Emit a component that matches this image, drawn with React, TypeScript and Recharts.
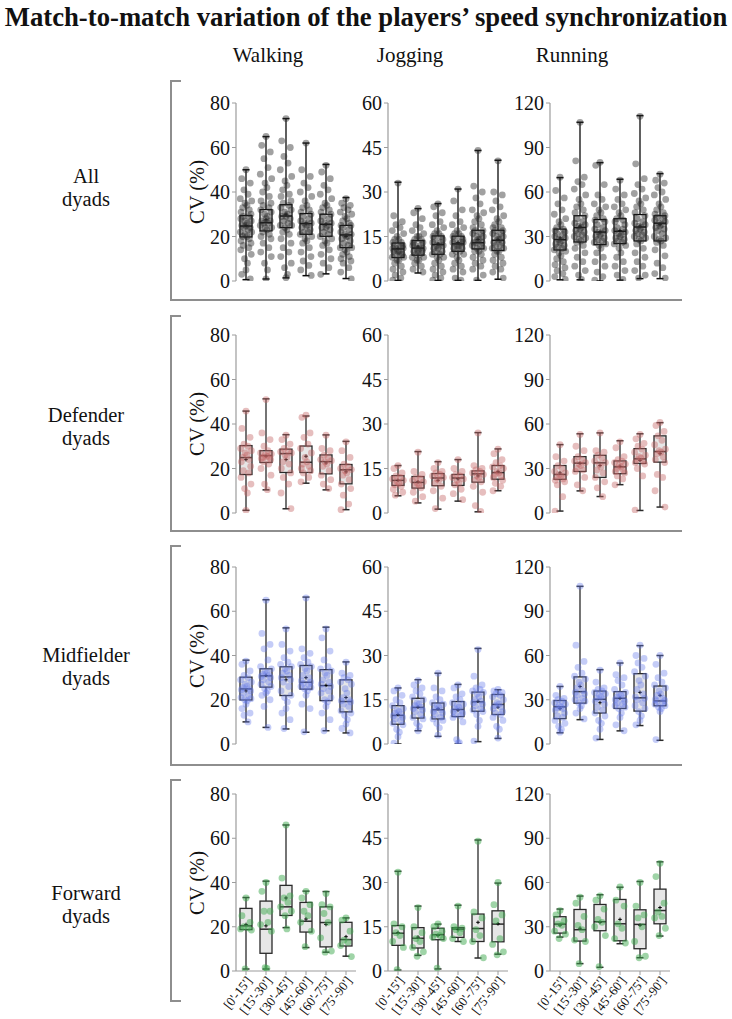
import React from 'react'
import { ComposedChart, Bar, Scatter, XAxis, YAxis } from 'recharts'

const periods = ["[0'-15']", "[15'-30']", "[30'-45']", "[45'-60']", "[60'-75']", "[75'-90']"]
const speedNames = ['Walking', 'Jogging', 'Running']
const groupNames = [['All', 'dyads'], ['Defender', 'dyads'], ['Midfielder', 'dyads'], ['Forward', 'dyads']]
const walkTicks = [0, 20, 40, 60, 80]
const jogTicks = [0, 15, 30, 45, 60]
const runTicks = [0, 30, 60, 90, 120]

// [min, q1, median, q3, max, mean] for each period
const allWalk = [[0.6, 19.8, 24.7, 29.4, 50, 25], [0.9, 22.5, 26.2, 32.1, 64.9, 27.5], [1.4, 24, 29.2, 34.3, 73, 30], [2.4, 21, 25.8, 30.3, 62, 26], [3.2, 20.1, 25.5, 30, 52.4, 25.5], [1.1, 15, 20.7, 25, 37.5, 20]]
const allJog = [[0.2, 7.9, 10.8, 12.8, 33.3, 11], [2.7, 8.7, 11.1, 13.6, 24.4, 11.5], [0.2, 9, 12.3, 15.2, 26.1, 12.5], [0.2, 10, 12.5, 15.1, 31, 13], [0.2, 10.8, 12.9, 17.1, 44, 14], [0.6, 10.3, 13.7, 17.1, 40.7, 14]]
const allRun = [[0.8, 20.9, 27.9, 35, 69.7, 29], [0.8, 26.3, 36, 44, 107, 37], [0, 24.5, 33, 41.4, 79.8, 33], [0.6, 25.2, 33.5, 42, 68.6, 34], [1.6, 27, 36.4, 44.8, 111.5, 37], [1.6, 27, 39, 44, 72.4, 38]]
const defWalk = [[1.2, 17.3, 24.9, 30.3, 45.8, 24], [10.4, 22.7, 25.8, 28, 51.3, 25.5], [1.9, 18.2, 26.7, 28.7, 35.2, 24], [13.4, 18.2, 22.8, 30.1, 43.6, 25.5], [10.4, 17.6, 23.1, 26.1, 35.1, 22.5], [1.5, 13.1, 19.4, 21.8, 32.2, 18.5]]
const defJog = [[5.8, 9.3, 11, 12.6, 16, 11], [3.4, 8.4, 10.3, 12.3, 20.7, 10.5], [1.3, 9.2, 11.8, 13.3, 17.3, 11], [4, 9.3, 11.8, 13, 18, 11.5], [0.4, 10.4, 13.2, 14.2, 27.1, 12.5], [7.5, 11.4, 13.6, 16, 21.6, 14]]
const defRun = [[1.3, 22.7, 26, 32, 46.1, 27], [14.9, 28, 33.6, 38, 53.4, 33.5], [11.1, 24, 33.8, 38.9, 54, 32], [19.1, 26.5, 31.1, 35.1, 48.7, 31.5], [1.7, 33.4, 36.5, 43.4, 53.4, 35.5], [4, 34.3, 41.4, 52, 60.9, 40]]
const midWalk = [[10, 19.9, 24.9, 30.2, 37.9, 24], [7.5, 25.7, 30.8, 34, 65.2, 31], [6.8, 21.9, 30.3, 34.9, 52.5, 29], [5.3, 24.8, 27.9, 35.5, 66.4, 30], [6, 19.6, 26.4, 33.6, 52.8, 26.5], [5, 14.5, 19.2, 29, 37.1, 21]]
const midJog = [[0, 6.7, 9.7, 13, 19, 10], [4.5, 8.8, 12.4, 15.5, 21.8, 12.5], [2.6, 8.5, 11.6, 13.9, 24, 12], [0, 9.3, 11.7, 14.4, 20.2, 11.5], [0.8, 11.1, 14.3, 17.6, 32.4, 14.5], [1.9, 10, 13.4, 16.8, 18.4, 12.5]]
const midRun = [[7.6, 17.2, 25.2, 29.5, 39, 24], [16.5, 27.7, 35.5, 45.5, 106.9, 39], [3.1, 21, 30.3, 35.9, 50.4, 28], [8.9, 24.1, 31, 35.5, 54.9, 31], [12.5, 22.3, 31.3, 47.7, 66.7, 35], [2.5, 25.9, 29.2, 39.3, 60, 33]]
const fwdWalk = [[0.9, 18.7, 20.4, 28.3, 33.2, 21], [0.9, 8, 18.9, 31.6, 40.6, 20.4], [19.6, 25.1, 29, 38.7, 66, 33], [10.6, 17.6, 22.5, 31, 36.1, 23.5], [8.5, 10.9, 21.9, 29, 35.9, 21], [6.7, 11.3, 14.2, 22, 24, 15.5]]
const fwdJog = [[0.3, 8.7, 12.8, 15.4, 33.8, 13], [5.3, 7.8, 11.1, 14.7, 22, 11.5], [0.7, 10.6, 12.3, 14.5, 15.9, 12], [10, 11.4, 14.2, 14.7, 22.3, 14], [4.4, 10, 14.4, 19.3, 44.4, 16.5], [5.7, 9.9, 15.9, 20.4, 29.8, 16]]
const fwdRun = [[23, 25.7, 31.8, 36.8, 42, 31], [5, 20.3, 28, 41.7, 50.8, 29], [2.5, 27.3, 33.4, 45.1, 51.7, 33], [18.5, 20.5, 32, 48.5, 56.8, 35], [9, 15.1, 31.6, 41.5, 60.7, 31], [23.7, 32, 41, 55.5, 74, 43]]

// individual dyad values per period
const allWalkPts = [
  [50, 46, 44, 41, 39, 37, 36, 35, 34, 33, 32, 31, 30, 29, 29, 28, 27, 27, 26, 25, 25, 24, 24, 23, 22, 22, 21, 20, 20, 19, 18, 17, 16, 15, 14, 12, 10, 8, 5, 3, 1],
  [65, 61, 58, 55, 51, 48, 46, 44, 42, 40, 38, 36, 35, 34, 33, 32, 31, 30, 29, 28, 27, 27, 26, 26, 25, 24, 24, 23, 22, 21, 20, 19, 17, 15, 13, 11, 8, 5, 1],
  [73, 63, 60, 56, 53, 50, 47, 45, 43, 41, 39, 38, 36, 35, 34, 33, 32, 31, 30, 29, 29, 28, 27, 26, 25, 25, 24, 23, 22, 21, 19, 17, 15, 13, 11, 8, 6, 3, 1.5],
  [62, 50, 47, 44, 42, 40, 38, 36, 34, 33, 32, 31, 30, 29, 28, 27, 26, 26, 25, 25, 24, 23, 22, 22, 21, 20, 19, 18, 17, 15, 13, 11, 9, 7, 5, 2.5],
  [52, 49, 46, 43, 41, 39, 37, 35, 34, 33, 32, 31, 30, 29, 28, 27, 26, 26, 25, 24, 24, 23, 22, 21, 20, 19, 18, 17, 16, 14, 12, 10, 8, 6, 3],
  [37, 35, 34, 33, 32, 31, 30, 29, 28, 27, 26, 25, 25, 24, 23, 22, 21, 21, 20, 20, 19, 18, 17, 16, 15, 15, 14, 13, 12, 11, 10, 9, 8, 6, 4, 1],
]
const allJogPts = [
  [33, 22, 20, 19, 18, 17, 16, 15, 14, 14, 13, 13, 12, 12, 12, 11, 11, 11, 10, 10, 10, 9, 9, 9, 8, 8, 7, 7, 6, 5, 4, 3, 2, 1, 0.3],
  [24.5, 23, 21, 19, 18, 17, 16, 15, 15, 14, 14, 13, 13, 12, 12, 12, 11, 11, 11, 10, 10, 10, 9, 9, 8, 8, 7, 7, 6, 5, 4, 3],
  [26, 25, 23, 22, 20, 19, 18, 17, 16, 16, 15, 15, 14, 14, 13, 13, 12, 12, 12, 11, 11, 10, 10, 9, 9, 8, 8, 7, 6, 5, 4, 3, 2, 1, 0.3],
  [31, 27, 24, 22, 20, 19, 18, 17, 16, 16, 15, 15, 14, 14, 13, 13, 13, 12, 12, 12, 11, 11, 10, 10, 9, 9, 8, 7, 6, 5, 4, 3, 1, 0.3],
  [44, 32, 30, 28, 26, 24, 23, 22, 21, 20, 19, 18, 17, 17, 16, 16, 15, 15, 14, 14, 13, 13, 13, 12, 12, 11, 11, 10, 10, 9, 8, 7, 6, 5, 4, 2, 0.3],
  [40.5, 30, 29, 27, 25, 24, 22, 21, 20, 19, 18, 18, 17, 17, 16, 16, 15, 15, 14, 14, 13, 13, 12, 12, 11, 11, 10, 10, 9, 8, 7, 6, 5, 4, 3, 1],
]
const allRunPts = [
  [70, 61, 56, 52, 48, 45, 42, 40, 38, 36, 35, 34, 33, 32, 31, 30, 29, 28, 27, 26, 25, 24, 23, 22, 21, 20, 19, 17, 15, 13, 11, 9, 7, 5, 3, 1],
  [107, 81, 70, 67, 65, 62, 58, 55, 52, 50, 48, 46, 44, 42, 40, 39, 38, 37, 36, 35, 34, 33, 32, 31, 30, 29, 28, 27, 26, 24, 22, 19, 16, 13, 10, 7, 4, 1],
  [80, 78, 65, 58, 55, 52, 50, 48, 46, 44, 42, 41, 40, 38, 36, 35, 34, 33, 32, 31, 30, 29, 28, 27, 26, 25, 24, 22, 19, 16, 13, 10, 6, 3, 0.5],
  [68, 62, 58, 55, 52, 50, 48, 46, 44, 42, 41, 40, 38, 36, 35, 34, 33, 32, 31, 30, 29, 28, 27, 26, 25, 24, 22, 19, 16, 13, 10, 7, 4, 1],
  [111, 79, 69, 65, 62, 59, 56, 54, 52, 50, 48, 46, 44, 42, 40, 39, 38, 37, 36, 35, 34, 33, 32, 31, 30, 29, 28, 27, 25, 22, 19, 16, 13, 10, 7, 4, 2],
  [72, 68, 66, 63, 60, 58, 55, 52, 50, 48, 46, 45, 44, 43, 42, 41, 40, 39, 38, 37, 36, 35, 34, 32, 30, 29, 28, 27, 26, 24, 21, 17, 12, 9, 5, 2],
]
const defWalkPts = [
  [45.8, 38, 34, 31, 30, 29, 28, 27, 26, 25, 24, 23, 21, 19, 18, 16, 13, 11, 9, 1.2],
  [51, 36, 33, 30, 28, 27, 26.5, 26, 25.5, 25, 25, 24.5, 24, 23, 22, 20, 17, 13, 10.5],
  [35, 33, 31, 29, 28, 27.5, 27, 26, 25, 23, 22, 20, 18, 16, 13, 9, 2],
  [44, 43, 36, 34, 31, 29, 27, 25, 23, 22, 21, 20, 19, 18, 16, 14],
  [35, 29, 28, 26, 25, 24, 23.5, 23, 22, 21, 19, 17, 15, 13, 11],
  [32, 28, 25, 22, 21, 20, 19.5, 19, 18, 17, 15, 13, 11, 8, 4, 1.5],
]
const defJogPts = [
  [16, 15, 13.5, 12.5, 12, 11.5, 11, 10.5, 10, 9.5, 9, 8, 7, 6],
  [20.5, 14, 13, 12, 11.5, 11, 10.5, 10, 9.5, 9, 8.5, 7, 5.5, 4],
  [17, 15, 14, 13.5, 13, 12.5, 12, 11.5, 11, 10, 9, 7.5, 5, 1.5],
  [18, 15, 14, 13, 12.5, 12, 11.5, 11, 10, 9.5, 8, 6.5, 4.5],
  [27, 16, 15, 14.5, 14, 13.5, 13, 12.5, 12, 11, 10.5, 9, 7, 2.5, 0.5],
  [21.5, 20, 18, 17, 16, 15.5, 15, 14, 13.5, 13, 12.5, 12, 11, 10, 9, 7.5],
]
const defRunPts = [
  [46, 38, 35, 32, 30, 28, 27, 26, 25, 24, 23, 22, 21, 19, 11, 1.3],
  [53, 45, 42, 38, 36, 35, 34, 33, 32, 30, 29, 28, 24, 19, 15],
  [54, 42, 41, 39, 37, 35, 34, 33, 31, 29, 27, 24, 21, 17, 11],
  [48, 44, 38, 36, 35, 34, 33, 32, 31, 30, 29, 28, 27, 25, 23, 19],
  [53, 50, 47, 45, 43, 41, 39, 38, 37, 36, 35, 34, 33, 30, 25, 2],
  [61, 59, 55, 52, 49, 46, 43, 42, 41, 40, 38, 36, 34, 26, 24, 15, 4],
]
const midWalkPts = [
  [37.5, 36, 33, 31, 30, 29, 28, 27, 26, 25.5, 25, 24.5, 24, 23, 22, 21, 20.5, 20, 19.5, 18, 16, 14, 13, 10],
  [65, 50, 45, 43, 38, 35, 34, 33, 32, 31.5, 31, 30.5, 30, 29, 28, 27, 26, 25, 24, 23, 22, 20, 17, 7.5],
  [52, 45, 42, 39, 37, 36, 35, 34, 33, 32, 31, 30, 29, 28, 26, 24, 22, 21, 19, 16, 14, 11, 7],
  [66, 43, 41, 39, 37, 36, 35, 34, 33, 31, 30, 28.5, 28, 27.5, 27, 26, 25.5, 25, 24, 22, 18, 16, 5.5],
  [52, 48, 42, 38, 35, 34, 33, 32, 31, 29, 28, 27, 26, 25, 24, 23, 21, 20, 19, 17, 14, 11, 6],
  [37, 32, 31, 30, 29, 28, 27, 25, 23, 21, 20, 19.5, 19, 18, 17, 15, 14, 13, 11, 9, 7, 5],
]
const midJogPts = [
  [19, 18, 16.5, 15, 14, 13, 12, 11.5, 11, 10.5, 10, 9.5, 9, 8.5, 8, 7, 6.5, 5, 4, 2.5, 0.3],
  [21.5, 20, 19, 18, 17, 16, 15, 14, 13.5, 13, 12.5, 12, 11.5, 11, 10, 9, 8.5, 7, 6, 4.5],
  [24, 19, 18, 16, 15, 14, 13.5, 13, 12.5, 12, 11.5, 11, 10.5, 10, 9, 8.5, 8, 7, 5.5, 3],
  [20, 19, 17, 16, 15, 14, 13.5, 13, 12.5, 12, 11.5, 11, 10.5, 10, 9.5, 9, 7.5, 1.5, 0.5, 0.3],
  [32, 23, 20, 19, 18.5, 18, 17.5, 17, 16, 15, 14.5, 14, 13.5, 13, 12, 11.5, 11, 10, 8, 6, 1],
  [18.5, 18, 17.5, 17, 16.5, 16, 15, 14, 13.5, 13, 12.5, 12, 11, 10.5, 10, 9, 8, 6, 5, 2],
]
const midRunPts = [
  [39, 33, 31, 30, 29, 28, 27, 26, 25, 24.5, 24, 23, 21, 19, 18, 16, 14, 12, 10, 8],
  [107, 67, 56, 52, 48, 46, 44, 42, 40, 38, 36, 35, 34, 33, 31, 30, 29, 28, 26, 24, 21, 17],
  [50, 42, 38, 37, 36, 35, 34, 33, 32, 31, 30, 29, 27, 25, 23, 21, 19, 16, 14, 10, 4],
  [55, 47, 45, 43, 40, 37, 35, 34, 33, 32, 31, 30, 29, 28, 27, 26, 25, 24, 21, 18, 13, 9],
  [67, 60, 58, 55, 52, 49, 46, 43, 40, 37, 34, 32, 31, 30, 28, 26, 24, 22, 19, 16, 13],
  [60, 54, 48, 45, 42, 40, 38, 36, 34, 33, 31, 30, 29.5, 29, 28, 27, 26, 25, 24, 22, 3],
]
const fwdWalkPts = [
  [33, 25, 22, 20, 19.5, 19, 18.5, 1],
  [40, 36, 27, 27, 22, 21, 18, 1.5, 1.2],
  [66, 42, 34, 33, 31, 29, 27, 25, 19],
  [36, 33, 30, 27, 25, 22, 18, 11],
  [35, 30, 29, 26, 22, 15, 9, 8.5],
  [24, 23, 18, 14, 13, 11.5, 6.5],
]
const fwdJogPts = [
  [33.5, 16, 15, 13, 12, 10, 8, 0.5],
  [21.5, 15, 13, 11, 10, 8, 6.5, 5],
  [16, 15, 13.5, 12.5, 12, 11.5, 11, 1],
  [22, 15, 14.5, 14, 13, 11, 10],
  [44, 20, 18, 14, 12, 10, 4.5],
  [30, 22.5, 19, 17, 11, 9, 6.5, 5.5],
]
const fwdRunPts = [
  [41, 38, 34, 32, 31, 27, 25, 22],
  [50, 46, 37, 31, 28, 21, 20, 5],
  [51, 48, 42, 35, 33, 30, 24, 3],
  [57, 48, 44, 32, 29, 22, 19],
  [60, 44, 38, 36, 30, 20, 10, 9],
  [73, 64, 46, 40, 37, 36, 29, 24],
]

const rowStats = [[allWalk, allJog, allRun], [defWalk, defJog, defRun], [midWalk, midJog, midRun], [fwdWalk, fwdJog, fwdRun]]
const rowPoints = [[allWalkPts, allJogPts, allRunPts], [defWalkPts, defJogPts, defRunPts], [midWalkPts, midJogPts, midRunPts], [fwdWalkPts, fwdJogPts, fwdRunPts]]
const colTicks = [walkTicks, jogTicks, runTicks]

const serif = '"Liberation Serif", "Times New Roman", Times, serif'
const frame = '#8e8e8e'
const axisGrey = '#9c9c9c'
const dotColor = ['#2a2a2a', '#c46464', '#6478ea', '#3faa4f']
const dotAlpha = [0.44, 0.42, 0.38, 0.5]
const boxStroke = ['#0a0a0a', '#2a2a2a', '#2a2a2a', '#2a2a2a']
const axisX = [236, 388, 550]
const plotTop = [103, 335, 567, 794]
const plotH = [178, 178, 177, 177]
const jitter = [0, -4.5, 4.5, -2.2, 2.2, -6, 6, -1, 1, -3.5, 3.5, -5.2, 5.2, -3, 3, -5.5, 5.5, -1.5, 1.5]

function BoxShape(props: any) {
  const { x, y, width, height, payload, stroke } = props
  const top = Math.min(y, y + height)
  const bot = Math.max(y, y + height)
  const span = payload.max - payload.min || 1
  const py = (v: number) => bot - ((v - payload.min) / span) * (bot - top)
  const cx = x + width / 2
  const cap = 3.5
  return (
    <g>
      <line x1={cx} x2={cx} y1={top} y2={bot} stroke={stroke} strokeWidth={1.3} />
      <line x1={cx - cap} x2={cx + cap} y1={top} y2={top} stroke={stroke} strokeWidth={1.5} />
      <line x1={cx - cap} x2={cx + cap} y1={bot} y2={bot} stroke={stroke} strokeWidth={1.5} />
      <rect x={x} y={py(payload.q3)} width={width} height={py(payload.q1) - py(payload.q3)} fill="#e6e6e6" stroke={stroke} strokeWidth={1.3} />
      <line x1={x} x2={x + width} y1={py(payload.med)} y2={py(payload.med)} stroke={stroke} strokeWidth={1.5} />
      <line x1={cx - 1.8} x2={cx + 1.8} y1={py(payload.mean)} y2={py(payload.mean)} stroke="#000" strokeWidth={1} />
      <line x1={cx} x2={cx} y1={py(payload.mean) - 1.8} y2={py(payload.mean) + 1.8} stroke="#000" strokeWidth={1} />
    </g>
  )
}

function PeriodTick(props: any) {
  const { x, y, payload } = props
  const tx = x + 3
  const ty = y + 1
  return (
    <text x={tx} y={ty} transform={`rotate(-52 ${tx} ${ty})`} textAnchor="end" dominantBaseline="central" fontSize={13} fontFamily={serif} fill="#111">
      {payload.value}
    </text>
  )
}

function Panel({ row, col }: { row: number; col: number }) {
  const stats = rowStats[row][col]
  const pts = rowPoints[row][col]
  const ticks = colTicks[col]
  const bottom = row === 3
  const boxes = periods.map((p, i) => ({
    period: p,
    min: stats[i][0],
    q1: stats[i][1],
    med: stats[i][2],
    q3: stats[i][3],
    max: stats[i][4],
    mean: stats[i][5],
  }))
  const dots = pts.flatMap((list, i) => list.map((v, k) => ({ period: periods[i], v, k })))
  const xAxisH = 52
  const height = 10 + plotH[row] + (bottom ? xAxisH : 10)
  const spread = row === 0 ? 0.95 : 0.9
  return (
    <div style={{ position: 'absolute', left: axisX[col] - 60, top: plotTop[row] - 10 }}>
      <ComposedChart width={190} height={height} data={boxes} margin={{ top: 10, right: 10, left: 0, bottom: bottom ? 0 : 10 }}>
        <XAxis
          dataKey="period"
          type="category"
          allowDuplicatedCategory={false}
          hide={!bottom}
          height={xAxisH}
          interval={0}
          tickSize={4}
          axisLine={{ stroke: axisGrey, strokeWidth: 1.2 }}
          tickLine={{ stroke: axisGrey }}
          tick={<PeriodTick />}
        />
        <YAxis
          type="number"
          domain={[0, ticks[ticks.length - 1]]}
          ticks={ticks}
          interval={0}
          allowDataOverflow
          width={60}
          tickSize={4}
          axisLine={{ stroke: axisGrey, strokeWidth: 1.2 }}
          tickLine={{ stroke: axisGrey }}
          tick={{ fill: '#111', fontSize: 20, fontFamily: serif }}
        />
        <Bar
          dataKey={(d: any) => [d.min, d.max]}
          barSize={12}
          isAnimationActive={false}
          shape={(p: any) => <BoxShape {...p} stroke={boxStroke[row]} />}
        />
        <Scatter
          data={dots}
          dataKey="v"
          isAnimationActive={false}
          shape={(p: any) => (
            <circle
              cx={p.cx + jitter[p.payload.k % jitter.length] * spread}
              cy={p.cy}
              r={3.4}
              fill={dotColor[row]}
              fillOpacity={dotAlpha[row]}
            />
          )}
        />
      </ComposedChart>
    </div>
  )
}

const brackets = [
  { top: 80, bottom: 299, full: true },
  { top: 315, bottom: 530, full: true },
  { top: 545, bottom: 764, full: true },
  { top: 779, bottom: 1000, full: false },
]
const labelCenters = [176, 415, 655, 893]
const headerX = [268, 410, 572]

export default function App() {
  return (
    <div style={{ position: 'absolute', left: 0, top: 0, width: 732, height: 1019, background: '#fff', fontFamily: serif, color: '#111', overflow: 'hidden' }}>
      <div style={{ position: 'absolute', left: 0, top: 1, width: 732, textAlign: 'center', fontSize: 26.7, fontWeight: 'bold', lineHeight: '32px', whiteSpace: 'nowrap' }}>
        Match-to-match variation of the players’ speed synchronization
      </div>
      {speedNames.map((s, i) => (
        <div key={s} style={{ position: 'absolute', left: headerX[i] - 60, top: 42, width: 120, textAlign: 'center', fontSize: 21, lineHeight: '26px' }}>
          {s}
        </div>
      ))}
      {groupNames.map((g, r) => (
        <div key={g[0]} style={{ position: 'absolute', left: 26, top: labelCenters[r] - 11.5, width: 120, textAlign: 'center', fontSize: 20.5, lineHeight: '23px' }}>
          {g[0]}
          <br />
          {g[1]}
        </div>
      ))}
      {brackets.map((b, r) => (
        <React.Fragment key={r}>
          <div style={{ position: 'absolute', left: 170, top: b.top, width: 11, height: 0, borderTop: `2px solid ${frame}` }} />
          <div style={{ position: 'absolute', left: 170, top: b.top, width: 0, height: b.bottom - b.top, borderLeft: `2px solid ${frame}` }} />
          <div style={{ position: 'absolute', left: 170, top: b.bottom, width: b.full ? 512 : 11, height: 0, borderTop: `2px solid ${frame}` }} />
        </React.Fragment>
      ))}
      {plotTop.map((t, r) => (
        <div key={r} style={{ position: 'absolute', left: 197 - 50, top: t + plotH[r] / 2 - 13, width: 100, height: 26, lineHeight: '26px', textAlign: 'center', fontSize: 20.5, transform: 'rotate(-90deg)' }}>
          CV (%)
        </div>
      ))}
      {[0, 1, 2, 3].map((r) => [0, 1, 2].map((c) => <Panel key={`${r}-${c}`} row={r} col={c} />))}
    </div>
  )
}
